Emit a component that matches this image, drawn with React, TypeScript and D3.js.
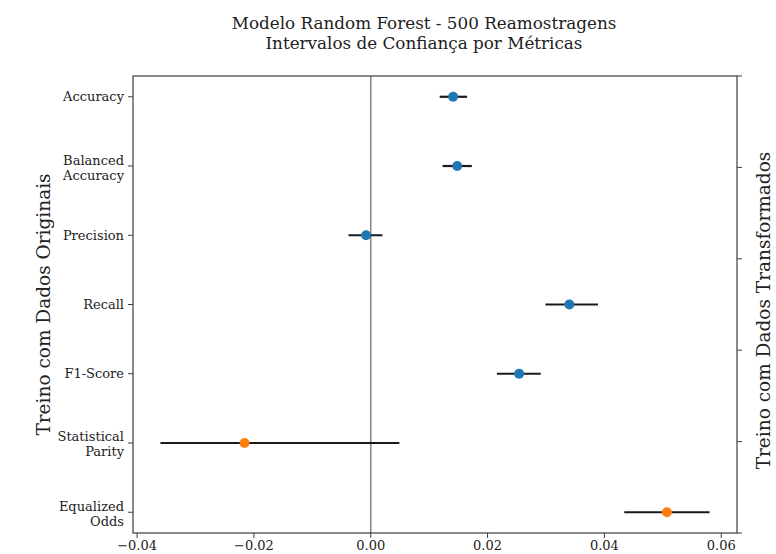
import React from "react";
import * as d3 from "d3";

const metricLabels: string[][] = [
  ["Accuracy"],
  ["Balanced", "Accuracy"],
  ["Precision"],
  ["Recall"],
  ["F1-Score"],
  ["Statistical", "Parity"],
  ["Equalized", "Odds"],
];
const pointValues = [0.0141, 0.0148, -0.0008, 0.034, 0.0254, -0.0216, 0.0507];
const lowerValues = [0.0118, 0.0123, -0.0038, 0.0299, 0.0216, -0.036, 0.0434];
const upperValues = [0.0165, 0.0173, 0.002, 0.0389, 0.0291, 0.0049, 0.058];
const metricGroup = ["perf", "perf", "perf", "perf", "perf", "fair", "fair"];
const xTickValues = [-0.04, -0.02, 0.0, 0.02, 0.04, 0.06];
const rightTickValues = [0, 0.2, 0.4, 0.6, 0.8, 1.0];

const titleLines = [
  "Modelo Random Forest - 500 Reamostragens",
  "Intervalos de Confiança por Métricas",
];
const leftAxisLabel = "Treino com Dados Originais";
const rightAxisLabel = "Treino com Dados Transformados";

const W = 776;
const H = 554;
const L = 133;
const R = 737;
const T = 76;
const B = 533;
const FONT = "DejaVu Serif";

export default function App() {
  const x = d3.scaleLinear().domain([-0.0407, 0.0627]).range([L, R]);
  const y = d3
    .scaleLinear()
    .domain([-0.3, metricLabels.length - 1 + 0.3])
    .range([T, B]);
  const yr = d3.scaleLinear().domain([0, 1]).range([B, T]);
  const color = d3
    .scaleOrdinal<string, string>()
    .domain(["perf", "fair"])
    .range(["#1f77b4", "#ff7f0e"]);
  const spine = "#3c3c3c";
  const midY = (T + B) / 2;

  return (
    <svg
      width={W}
      height={H}
      style={{ position: "absolute", left: 0, top: 0, background: "#fff" }}
      fontFamily={FONT}
    >
      <rect x={0} y={0} width={W} height={H} fill="#fff" />
      {titleLines.map((t, i) => (
        <text
          key={i}
          x={424}
          y={29 + i * 20}
          textAnchor="middle"
          fontSize={16.8}
          fill="#222"
        >
          {t}
        </text>
      ))}

      {/* zero line */}
      <line x1={x(0)} x2={x(0)} y1={T} y2={B} stroke="#8a8a8a" strokeWidth={1.6} />

      {/* error bars */}
      {pointValues.map((v, i) => (
        <line
          key={"e" + i}
          x1={x(lowerValues[i])}
          x2={x(upperValues[i])}
          y1={y(i)}
          y2={y(i)}
          stroke="#1a1a1a"
          strokeWidth={2.2}
        />
      ))}
      {pointValues.map((v, i) => (
        <circle
          key={"p" + i}
          cx={x(v)}
          cy={y(i)}
          r={5}
          fill={color(metricGroup[i])}
        />
      ))}

      {/* frame */}
      <rect
        x={L}
        y={T}
        width={R - L}
        height={B - T}
        fill="none"
        stroke={spine}
        strokeWidth={1.2}
      />

      {/* left ticks and labels */}
      {metricLabels.map((lines, i) => {
        const yy = y(i);
        return (
          <g key={"yl" + i}>
            <line x1={L - 5} x2={L} y1={yy} y2={yy} stroke={spine} strokeWidth={1} />
            {lines.map((ln, j) => (
              <text
                key={j}
                x={L - 9}
                y={lines.length === 1 ? yy + 4.7 : yy - 1.5 + j * 15}
                textAnchor="end"
                fontSize={13}
                fill="#222"
              >
                {ln}
              </text>
            ))}
          </g>
        );
      })}

      {/* right ticks */}
      {rightTickValues.map((v, i) => (
        <line
          key={"rt" + i}
          x1={R}
          x2={R + 5}
          y1={yr(v)}
          y2={yr(v)}
          stroke={spine}
          strokeWidth={1}
        />
      ))}

      {/* x ticks */}
      {xTickValues.map((v, i) => (
        <g key={"xt" + i}>
          <line x1={x(v)} x2={x(v)} y1={B} y2={B + 5} stroke={spine} strokeWidth={1} />
          <text
            x={x(v)}
            y={B + 17}
            textAnchor="middle"
            fontSize={13}
            fill="#222"
          >
            {d3.format(".2f")(v).replace("-", "\u2212")}
          </text>
        </g>
      ))}

      {/* axis labels */}
      <text
        transform={`translate(50,${midY}) rotate(-90)`}
        textAnchor="middle"
        fontSize={18.5}
        fill="#222"
      >
        {leftAxisLabel}
      </text>
      <text
        transform={`translate(770,${midY + 6}) rotate(-90)`}
        textAnchor="middle"
        fontSize={18.5}
        fill="#222"
      >
        {rightAxisLabel}
      </text>
    </svg>
  );
}
